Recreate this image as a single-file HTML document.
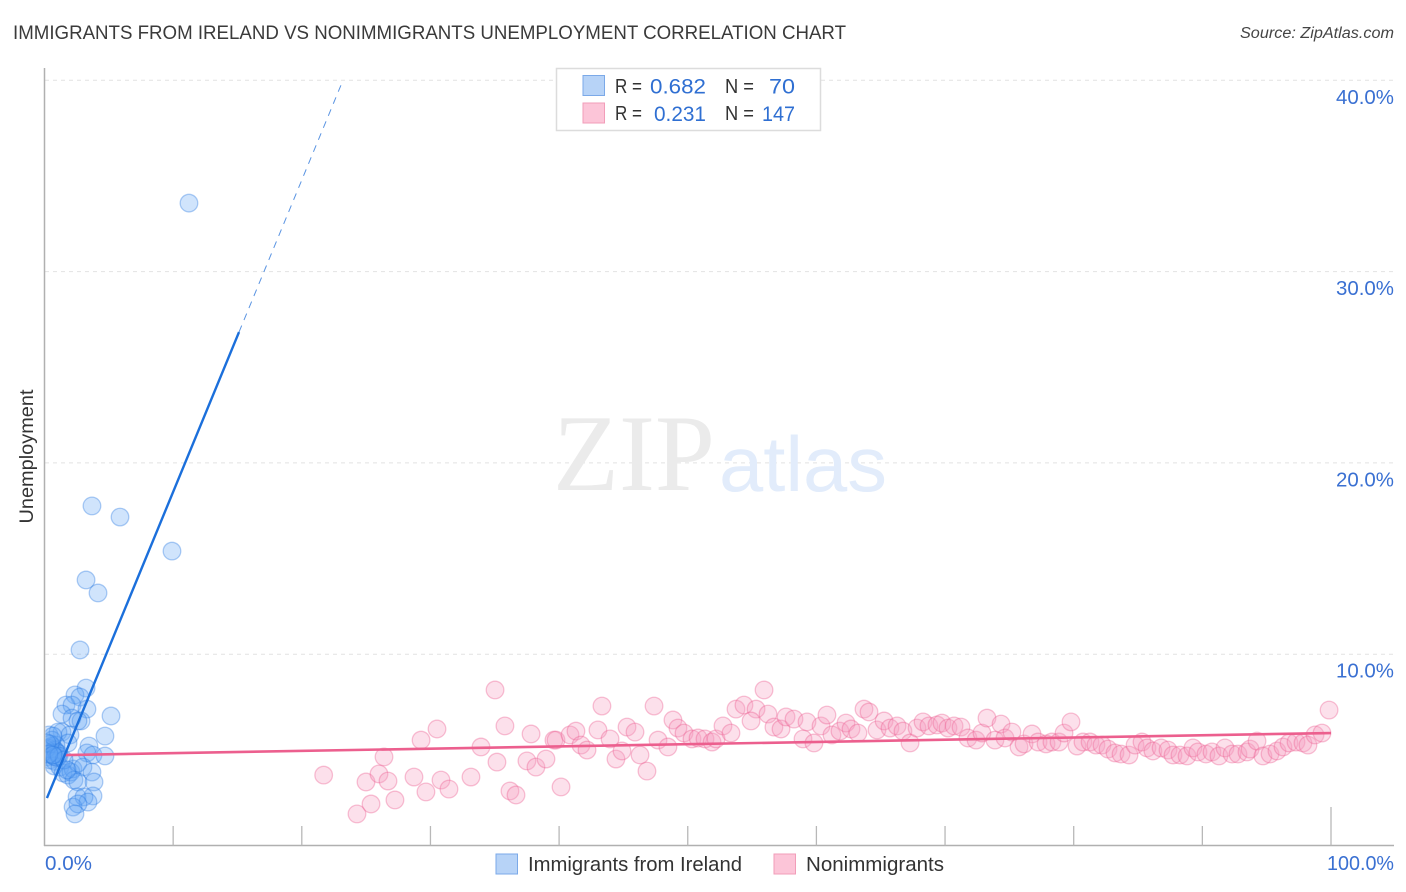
<!DOCTYPE html>
<html lang="en">
<head>
<meta charset="utf-8">
<title>Immigrants from Ireland vs Nonimmigrants Unemployment Correlation Chart</title>
<style>
html,body{margin:0;padding:0;background:#fff;}
svg{display:block;font-family:"Liberation Sans",sans-serif;}
</style>
</head>
<body>
<svg id="chart" xmlns="http://www.w3.org/2000/svg" width="1406" height="892" viewBox="0 0 1406 892">
  <defs>
    <clipPath id="plot-clip"><rect x="45.5" y="60" width="1350" height="785"/></clipPath>
  </defs>
  <text x="13" y="39" font-size="19" fill="#3a3a3a" textLength="833" lengthAdjust="spacingAndGlyphs">IMMIGRANTS FROM IRELAND VS NONIMMIGRANTS UNEMPLOYMENT CORRELATION CHART</text>
  <text x="1394" y="38" font-size="15.5" font-style="italic" fill="#444" text-anchor="end" textLength="154" lengthAdjust="spacingAndGlyphs">Source: ZipAtlas.com</text>
  <g id="grid"></g>
  <g>
    <text x="553" y="490" font-family="'Liberation Serif',serif" font-size="109" fill="#ebebeb" textLength="162" lengthAdjust="spacingAndGlyphs">ZIP</text>
    <text x="719" y="491" font-size="78" fill="#e2ecfb" textLength="168" lengthAdjust="spacingAndGlyphs">atlas</text>
  </g>
  <g id="axes"></g>
  <g id="points-blue" clip-path="url(#plot-clip)"></g>
  <g id="points-pink"></g>
  <g id="trends"></g>
  <text transform="translate(33 456.5) rotate(-90)" font-size="19.5" fill="#333" text-anchor="middle" textLength="134" lengthAdjust="spacingAndGlyphs">Unemployment</text>
  <g>
    <rect x="556.5" y="68.5" width="264" height="62" fill="#fff" stroke="#dcdcdc" stroke-width="1.5"/>
    <rect x="583" y="75.5" width="21.5" height="20" fill="#b7d3f7" stroke="#7ba9e8" stroke-width="1"/>
    <rect x="583" y="103" width="21.5" height="20" fill="#fcc5d8" stroke="#f29db9" stroke-width="1"/>
    <g font-size="20" fill="#333">
      <text x="615" y="93" textLength="27" lengthAdjust="spacingAndGlyphs">R =</text>
      <text x="725" y="93" textLength="29" lengthAdjust="spacingAndGlyphs">N =</text>
      <text x="615" y="120" textLength="27" lengthAdjust="spacingAndGlyphs">R =</text>
      <text x="725" y="120" textLength="29" lengthAdjust="spacingAndGlyphs">N =</text>
    </g>
    <g font-size="21.5" fill="#2f6fd2">
      <text x="650" y="93.5" textLength="56" lengthAdjust="spacingAndGlyphs">0.682</text>
      <text x="769" y="93.5" textLength="26" lengthAdjust="spacingAndGlyphs">70</text>
      <text x="654" y="121" textLength="52" lengthAdjust="spacingAndGlyphs">0.231</text>
      <text x="762" y="121" textLength="33" lengthAdjust="spacingAndGlyphs">147</text>
    </g>
  </g>
  <g>
    <rect x="496" y="854" width="21.5" height="20" fill="#b7d3f7" stroke="#7ba9e8" stroke-width="1"/>
    <text x="528" y="871" font-size="20" fill="#333" textLength="214" lengthAdjust="spacingAndGlyphs">Immigrants from Ireland</text>
    <rect x="774" y="854" width="21.5" height="20" fill="#fcc5d8" stroke="#f29db9" stroke-width="1"/>
    <text x="806" y="871" font-size="20" fill="#333" textLength="138" lengthAdjust="spacingAndGlyphs">Nonimmigrants</text>
  </g>
</svg>
<script>
var blueX = [11.23,3.69,5.87,9.91,3.23,4.16,2.76,3.23,2.37,2.76,1.67,2.14,3.30,1.36,2.14,2.84,2.60,5.17,4.70,3.46,3.30,3.77,4.70,1.36,0.35,1.05,1.98,0.60,1.83,0.89,0.58,0.27,0.58,0.19,0.43,0.82,0.70,1.00,0.90,0.80,0.74,1.20,1.10,0.12,0.43,0.82,1.13,1.44,1.83,2.22,2.06,2.60,2.99,3.69,2.29,2.60,3.85,3.77,2.53,3.07,3.38,2.22,2.60,2.37,0.66,0.19,1.52,1.75,0.35,0.66];
var blueY = [33.58,17.75,17.17,15.39,13.88,13.20,10.22,8.23,7.87,7.76,7.34,7.34,7.13,6.87,6.66,6.51,6.51,6.77,5.72,5.20,4.84,4.73,4.68,5.93,5.78,5.93,5.78,5.20,5.36,5.25,5.51,5.10,4.89,4.63,4.47,4.99,4.70,4.60,4.90,4.40,4.16,4.10,4.80,5.04,5.31,4.63,4.68,3.79,3.68,4.00,3.84,4.31,4.10,3.84,3.42,3.32,3.32,2.59,2.54,2.54,2.27,2.01,2.17,1.65,5.72,5.36,4.47,3.95,4.78,4.73];
var pinkX = [21.70,24.29,25.38,24.99,26.00,26.70,27.24,26.39,28.72,29.65,29.27,30.51,30.82,31.44,33.15,33.93,35.02,35.17,35.79,36.18,36.65,37.82,37.50,38.20,38.98,40.15,39.60,39.76,40.85,41.31,41.70,42.17,43.02,43.33,43.96,44.42,44.89,45.28,45.90,46.29,46.83,47.38,47.69,48.46,48.85,49.24,49.71,50.33,50.80,51.34,51.89,52.20,52.74,53.36,53.75,54.37,55.31,55.93,54.92,56.24,56.70,57.25,57.64,58.26,58.96,59.27,59.81,60.36,60.82,61.21,61.83,62.30,62.69,63.23,63.70,64.09,64.71,65.26,65.72,66.27,66.73,67.28,67.82,68.29,68.75,69.37,69.76,70.23,70.70,71.24,71.78,72.41,72.87,73.26,73.88,74.35,74.66,75.20,75.75,76.14,76.76,77.23,77.85,78.31,78.86,79.25,79.79,80.26,80.72,81.27,81.73,82.20,82.67,83.21,83.68,84.30,84.77,85.31,85.70,86.16,86.79,87.33,87.72,88.26,88.81,89.27,89.66,90.28,90.75,91.29,91.76,92.31,92.77,93.47,93.71,94.25,94.71,95.26,95.80,96.27,96.74,97.28,97.82,98.21,98.76,99.30,99.85];
var pinkY = [3.68,1.65,2.17,3.32,3.74,3.37,2.38,4.63,3.58,2.80,5.51,6.09,3.42,2.95,3.58,5.15,8.13,4.36,6.25,2.85,2.64,5.83,4.42,4.10,4.52,3.06,5.51,5.51,5.78,5.98,5.25,4.99,6.04,7.29,5.57,4.52,4.94,6.19,5.93,4.73,3.89,7.29,5.51,5.15,6.56,6.14,5.88,5.57,5.62,5.57,5.41,5.57,6.25,5.88,7.13,7.34,7.13,8.13,6.51,6.87,6.19,6.09,6.72,6.61,5.57,6.46,5.36,6.25,6.82,5.78,5.98,6.40,6.09,5.88,7.13,6.98,6.04,6.51,6.14,6.25,5.98,5.36,6.14,6.46,6.25,6.30,6.40,6.14,6.25,6.19,5.62,5.51,5.88,6.66,5.51,6.35,5.62,5.93,5.15,5.31,5.83,5.41,5.31,5.41,5.41,5.88,6.46,5.20,5.41,5.41,5.25,5.25,5.04,4.84,4.78,4.73,5.25,5.41,5.10,4.94,5.10,4.99,4.73,4.73,4.68,5.10,4.89,4.78,4.89,4.68,5.10,4.78,4.78,4.89,5.04,5.46,4.68,4.78,4.94,5.15,5.36,5.41,5.36,5.25,5.78,5.88,7.08];
var blueTrendX = [0.19,15.12];
var blueTrendY = [2.48,26.84];
var blueForecastX = [15.12,23.2];
var blueForecastY = [26.84,40.0];
var pinkTrendX = [1.6,100];
var pinkTrendY = [4.73,5.88];
var yTicks = [10,20,30,40];
var xTicks = [0,10,20,30,40,50,60,70,80,90,100];

function sx(v){return 44.5+v*12.865;}
function sy(v){return 845.5-v*19.13;}
var NS='http://www.w3.org/2000/svg';
function mk(parent,tag,attrs){
  var e=document.createElementNS(NS,tag);
  for(var k in attrs){e.setAttribute(k,attrs[k]);}
  parent.appendChild(e);
  return e;
}
var grid=document.getElementById('grid');
var axes=document.getElementById('axes');
yTicks.forEach(function(t){
  var l=mk(grid,'line',{x1:45,x2:1394,y1:sy(t),y2:sy(t),stroke:'#e2e2e2','stroke-width':1,'stroke-dasharray':'4 4'});
  
  
  var s=mk(axes,'text',{x:1394,y:sy(t)+23.5,'font-size':20,fill:'#3a70d2','text-anchor':'end',textLength:58,lengthAdjust:'spacingAndGlyphs'});
  s.textContent=t.toFixed(1)+'%';
  
  
});
var ya=mk(axes,'line',{x1:44.5,x2:44.5,y1:68,y2:846,stroke:'#b0b0b0','stroke-width':1.5});


var xa=mk(axes,'line',{x1:44,x2:1394,y1:845.5,y2:845.5,stroke:'#b0b0b0','stroke-width':1.5});


xTicks.forEach(function(t){
  if(t===0){return;}
  var top=(t===100)?807:826;
  var l=mk(axes,'line',{x1:sx(t),x2:sx(t),y1:top,y2:845.5,stroke:'#b8b8b8','stroke-width':1.3});
  
  
});
[0,100].forEach(function(t){
  var s=mk(axes,'text',{x:t===0?45:1394,y:870,'font-size':20,fill:'#3a70d2','text-anchor':t===0?'start':'end',textLength:t===0?47:67,lengthAdjust:'spacingAndGlyphs'});
  s.textContent=t.toFixed(1)+'%';
  
  
});
var gb=document.getElementById('points-blue');
blueX.forEach(function(x,i){
  var c=mk(gb,'circle',{cx:sx(x),cy:sy(blueY[i]),r:8.8,fill:'rgba(100,165,245,0.3)',stroke:'rgba(40,120,225,0.36)','stroke-width':1.3});
  
  
});
var gp=document.getElementById('points-pink');
pinkX.forEach(function(x,i){
  var c=mk(gp,'circle',{cx:sx(x),cy:sy(pinkY[i]),r:8.8,fill:'rgba(247,160,192,0.32)',stroke:'rgba(236,90,140,0.36)','stroke-width':1.3});
  
  
});
var tr=document.getElementById('trends');
var t1=mk(tr,'line',{x1:sx(pinkTrendX[0]),y1:sy(pinkTrendY[0]),x2:sx(pinkTrendX[1]),y2:sy(pinkTrendY[1]),stroke:'#ec5f8e','stroke-width':2.6});


var t2=mk(tr,'line',{x1:sx(blueTrendX[0]),y1:sy(blueTrendY[0]),x2:sx(blueTrendX[1]),y2:sy(blueTrendY[1]),stroke:'#1b6fdb','stroke-width':2.4});


var t3=mk(tr,'line',{x1:sx(blueForecastX[0]),y1:sy(blueForecastY[0]),x2:sx(blueForecastX[1]),y2:sy(blueForecastY[1]),stroke:'#5a94e2','stroke-width':1,'stroke-dasharray':'7 6'});


</script>
</body>
</html>
